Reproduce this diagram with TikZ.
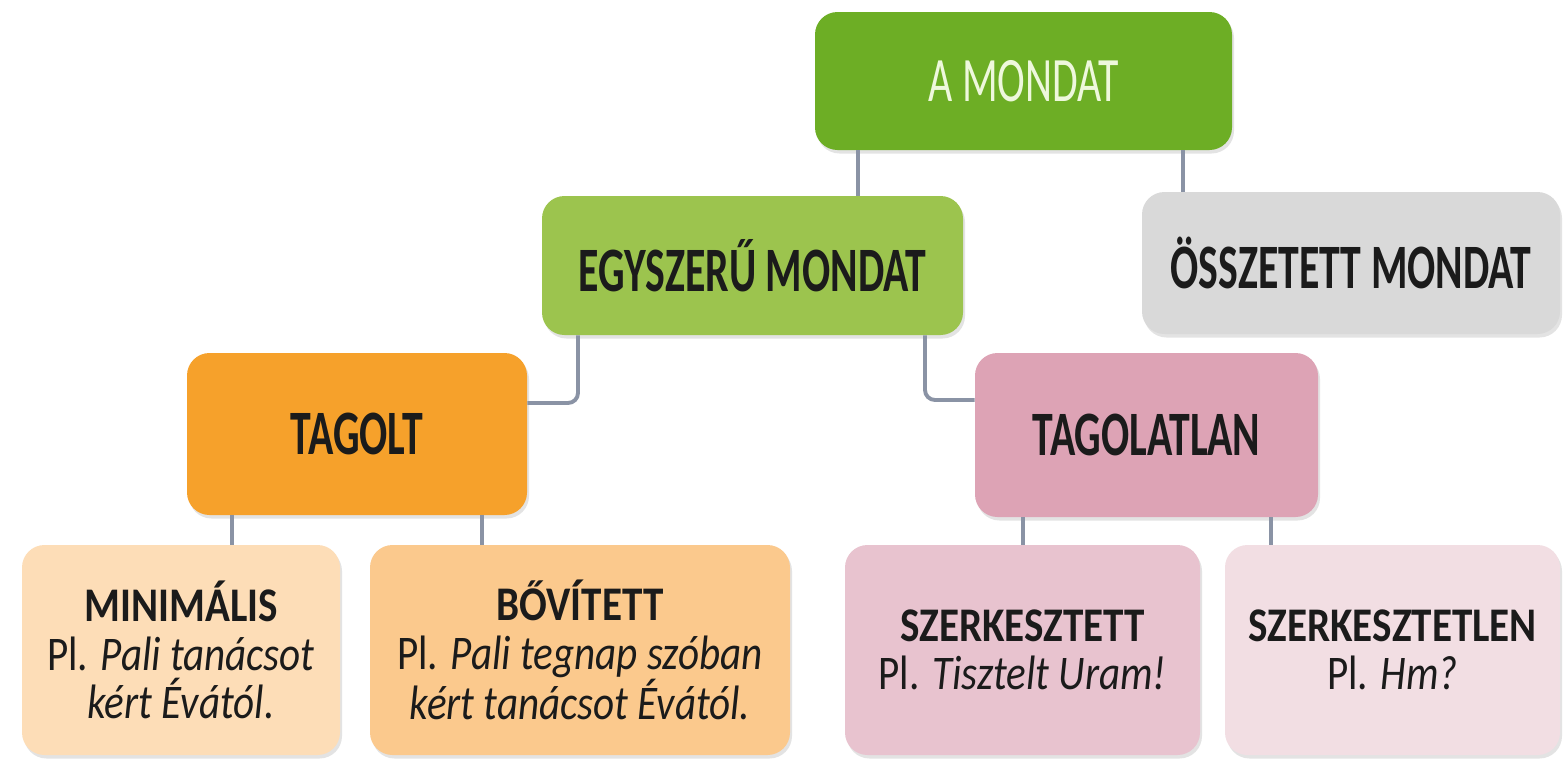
\documentclass[tikz,border=0pt]{standalone}
\usepackage{fontspec}
\setmainfont{Carlito}
\newfontfamily\hdrfont[FakeStretch=0.66]{Carlito}
\newfontfamily\bodyfont[FakeStretch=0.85]{Carlito}
\usetikzlibrary{shadows,calc}
\definecolor{cTop}{HTML}{6DAE25}
\definecolor{cTopText}{HTML}{EEF8DC}
\definecolor{cEgy}{HTML}{9CC44E}
\definecolor{cOssz}{HTML}{D9D9D9}
\definecolor{cTag}{HTML}{F6A12B}
\definecolor{cTagl}{HTML}{DDA3B5}
\definecolor{cMin}{HTML}{FDDDB7}
\definecolor{cBov}{HTML}{FBC98D}
\definecolor{cSzt}{HTML}{E8C3CF}
\definecolor{cSztl}{HTML}{F2DEE3}
\definecolor{cLine}{HTML}{8A93A5}
\definecolor{cText}{HTML}{1B1B1B}
\tikzset{
  box/.style={rounded corners=0.45cm, draw=none, inner sep=0pt, align=center,
    text=cText, drop shadow={opacity=0.22, shadow xshift=0.04cm, shadow yshift=-0.07cm}},
  hdr/.style={box, font=\hdrfont\fontsize{36}{38}\selectfont},
  leaf/.style={box, font=\bodyfont\fontsize{27.5}{27.5}\selectfont},
  conn/.style={draw=cLine, line width=2.2pt, rounded corners=0.2cm}
}
\begin{document}
\begin{tikzpicture}
\useasboundingbox (0,0) rectangle (31.3,-15.26);
\fill[white] (0,0) rectangle (31.3,-15.26);

\node[hdr, fill=cTop, text=cTopText, minimum width=8.34cm, minimum height=2.76cm] (amondat) at (20.47,-1.62) {A MONDAT};
\node[hdr, fill=cEgy, minimum width=8.42cm, minimum height=2.78cm] (egy) at (15.05,-5.31) {\bfseries EGYSZERŰ MONDAT};
\node[hdr, fill=cOssz, minimum width=8.36cm, minimum height=2.84cm] (ossz) at (27.02,-5.26) {\bfseries ÖSSZETETT MONDAT};
\node[hdr, fill=cTag, minimum width=6.8cm, minimum height=3.24cm] (tagolt) at (7.14,-8.68) {\bfseries TAGOLT};
\node[hdr, fill=cTagl, minimum width=6.86cm, minimum height=3.28cm] (tagolatlan) at (22.93,-8.70) {\bfseries TAGOLATLAN};

\node[leaf, fill=cMin, minimum width=6.36cm, minimum height=4.2cm] (min) at (3.62,-13.0)
  {\textbf{MINIMÁLIS}\\Pl. \textit{Pali tanácsot}\\\textit{kért Évától.}};
\node[leaf, fill=cBov, minimum width=8.4cm, minimum height=4.2cm] (bov) at (11.6,-13.0)
  {\textbf{BŐVÍTETT}\\Pl. \textit{Pali tegnap szóban}\\\textit{kért tanácsot Évától.}};
\node[leaf, fill=cSzt, minimum width=7.1cm, minimum height=4.2cm] (szt) at (20.45,-13.0)
  {\textbf{SZERKESZTETT}\\Pl. \textit{Tisztelt Uram!}};
\node[leaf, fill=cSztl, minimum width=6.7cm, minimum height=4.2cm] (sztl) at (27.85,-13.0)
  {\textbf{SZERKESZTETLEN}\\Pl. \textit{Hm?}};

\coordinate (x1) at (17.16,0);
\coordinate (x2) at (23.66,0);
\coordinate (c3) at (11.56,-8.06);
\coordinate (c4) at (18.50,-8.00);
\coordinate (x5) at (4.64,0);
\coordinate (x6) at (9.64,0);
\coordinate (x7) at (20.46,0);
\coordinate (x8) at (25.42,0);

\draw[conn] (amondat.south -| x1) -- (egy.north -| x1);
\draw[conn] (amondat.south -| x2) -- (ossz.north -| x2);
\draw[conn] (egy.south -| c3) |- (c3 -| tagolt.east);
\draw[conn] (egy.south -| c4) |- (c4 -| tagolatlan.west);
\draw[conn] (tagolt.south -| x5) -- (min.north -| x5);
\draw[conn] (tagolt.south -| x6) -- (bov.north -| x6);
\draw[conn] (tagolatlan.south -| x7) -- (szt.north -| x7);
\draw[conn] (tagolatlan.south -| x8) -- (sztl.north -| x8);
\end{tikzpicture}
\end{document}
